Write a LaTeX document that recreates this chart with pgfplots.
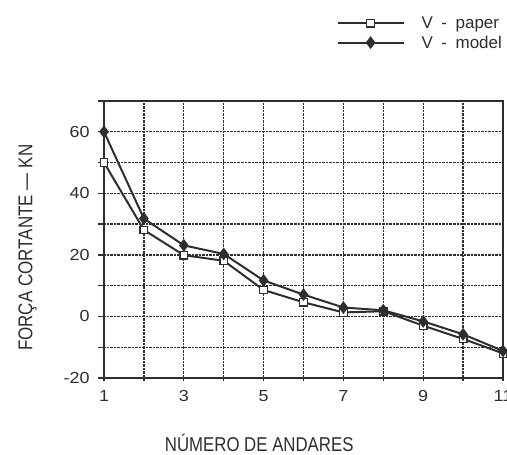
\documentclass[border=0pt]{standalone}
\usepackage{fontspec}
\setmainfont{Liberation Sans}
\usepackage{graphicx}
\usepackage{pgfplots}
\pgfplotsset{compat=1.18}
\definecolor{ink}{HTML}{2E2E2E}
\begin{document}
\begin{tikzpicture}
\begin{axis}[
  at={(0,0)}, anchor=south west,
  scale only axis,
  width=399bp, height=277bp,
  xmin=1, xmax=11, ymin=-20, ymax=70,
  xtick={1,...,11},
  xticklabels={1,,3,,5,,7,,9,,11},
  ytick={-20,-10,...,70},
  yticklabels={-20,,0,,20,,40,,60,},
  tick pos=left,
  xtick align=center, ytick align=outside,
  major tick length=6bp,
  grid=major,
  major grid style={densely dotted, line width=1.4bp, ink},
  axis line style={line width=1.6bp, ink},
  every tick/.style={line width=1.3bp, ink},
  /pgf/number format/assume math mode=true,
  tick label style={font=\fontsize{16bp}{19bp}\selectfont, text=ink, xscale=1.12},
  xticklabel style={yshift=-6bp},
  yticklabel style={xshift=-4bp},
  label style={font=\fontsize{20bp}{24bp}\selectfont, text=ink},
  xlabel={\scalebox{0.84}[1]{NÚMERO DE ANDARES}},
  ylabel={\scalebox{0.85}[1]{FORÇA CORTANTE — KN}},
  xlabel style={at={(axis description cs:0.389,-0.267)}, anchor=base},
  ylabel style={at={(axis description cs:-0.192,0.47)}, anchor=center},
  legend style={draw=none, fill=none, at={(axis description cs:0.575,1.32)}, anchor=north west,
    font=\fontsize{17bp}{20bp}\selectfont, text=ink, row sep=2bp,
    /tikz/every odd column/.style={column sep=15bp}},
  legend cell align=left,
  legend image code/.code={\draw[mark repeat=2,mark phase=2,#1] plot coordinates {(0bp,0bp) (33bp,0bp) (66bp,0bp)};},
  clip=false,
]
\addplot[ink, line width=2bp, mark=square*, mark options={fill=white, line width=1.3bp, mark size=3.8bp}]
coordinates {(1,50) (2,28.1) (3,19.9) (4,18.1) (5,8.6) (6,4.6) (7,1.3) (8,1.7) (9,-3.0) (10,-7.3) (11,-12.0)};
\addlegendentry{V\enspace-\enspace paper}
\addplot[ink, line width=2bp, mark=diamond*, mark options={fill=ink, mark size=4.8bp}]
coordinates {(1,60) (2,31.8) (3,23.1) (4,20.3) (5,11.7) (6,7.1) (7,2.9) (8,2.0) (9,-1.6) (10,-5.8) (11,-11.2)};
\addlegendentry{V\enspace-\enspace model}
\end{axis}
\pgfresetboundingbox
\path[use as bounding box] (-104bp,-77bp) rectangle (403bp,378bp);
\end{tikzpicture}
\end{document}
